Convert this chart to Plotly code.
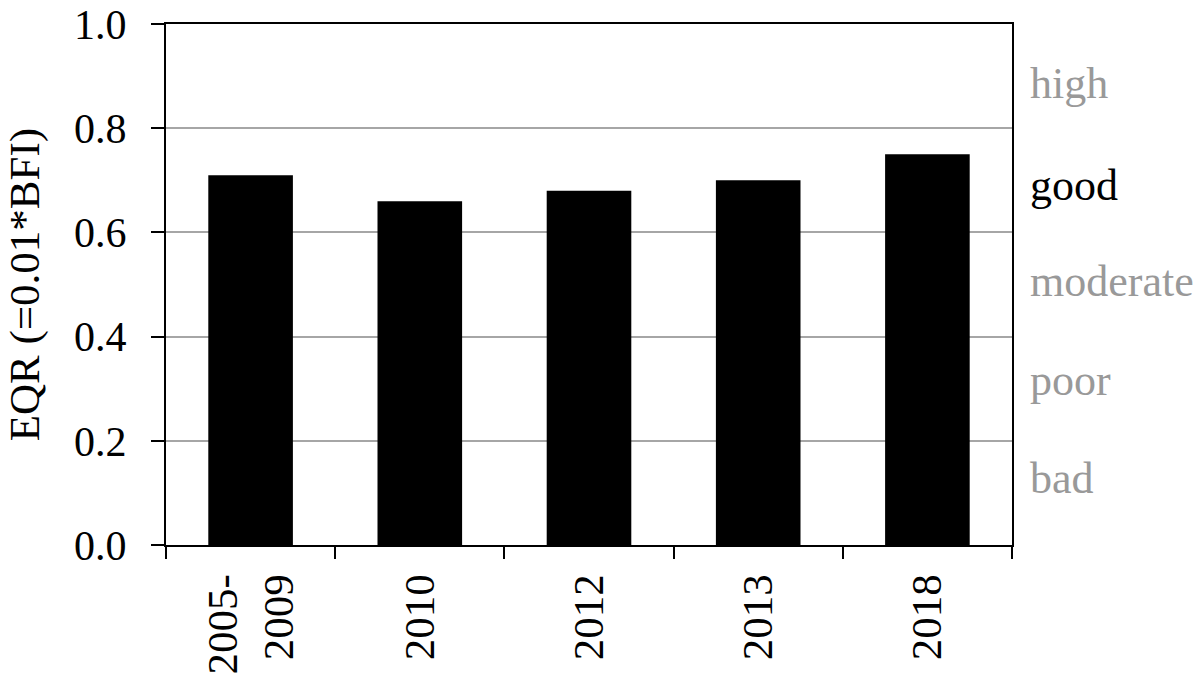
import plotly.graph_objects as go

categories = ["2005-<br>2009", "2010", "2012", "2013", "2018"]
eqr_values = [0.71, 0.66, 0.68, 0.70, 0.75]
class_labels = ["high", "good", "moderate", "poor", "bad"]
class_label_y = [0.885, 0.69, 0.505, 0.316, 0.128]
class_label_colors = ["#999999", "#000000", "#999999", "#999999", "#999999"]
y_ticks = [0.0, 0.2, 0.4, 0.6, 0.8, 1.0]

FONT = "Liberation Serif"

fig = go.Figure()
fig.add_trace(go.Bar(
    x=categories, y=eqr_values,
    marker=dict(color="black", line=dict(width=0)),
    width=0.5,
))

for lbl, yy, col in zip(class_labels, class_label_y, class_label_colors):
    fig.add_annotation(
        x=1.0, xref="paper", y=yy, yref="y", text=lbl, showarrow=False,
        xanchor="left", yanchor="middle", xshift=16,
        font=dict(family=FONT, size=44, color=col),
    )

fig.add_annotation(
    x=-0.167, xref="paper", y=0.5, yref="paper",
    text="EQR (=0.01*BFI)", showarrow=False, textangle=-90,
    xanchor="center", yanchor="middle",
    font=dict(family=FONT, size=43, color="black"),
)

fig.update_layout(
    width=1200, height=682,
    margin=dict(l=166, r=188, t=24, b=137),
    paper_bgcolor="white", plot_bgcolor="white",
    showlegend=False,
    bargap=0.5,
    font=dict(family=FONT, size=43, color="black"),
)
fig.update_xaxes(
    type="category", automargin=False,
    showline=True, linecolor="black", linewidth=2, mirror=True,
    ticks="outside", tickson="boundaries", ticklen=12, tickwidth=2, tickcolor="black",
    tickangle=-90, ticklabelstandoff=10, showgrid=False,
    tickfont=dict(family=FONT, size=43, color="black"),
)
fig.update_yaxes(
    range=[0, 1.0001], tickvals=y_ticks, ticktext=[f"{v:.1f}" for v in y_ticks],
    automargin=False, ticklabeloverflow="allow",
    showline=True, linecolor="black", linewidth=2, mirror=True,
    ticks="outside", ticklen=13, tickwidth=2, tickcolor="black",
    showgrid=True, gridcolor="#a6a6a6", gridwidth=1.5, zeroline=False,
    ticklabelstandoff=16,
    tickfont=dict(family=FONT, size=42, color="black"),
)

fig.write_html(
    "out.html",
    config={"displayModeBar": False},
    post_script="document.body.style.margin='0';document.body.style.overflow='hidden';",
)
